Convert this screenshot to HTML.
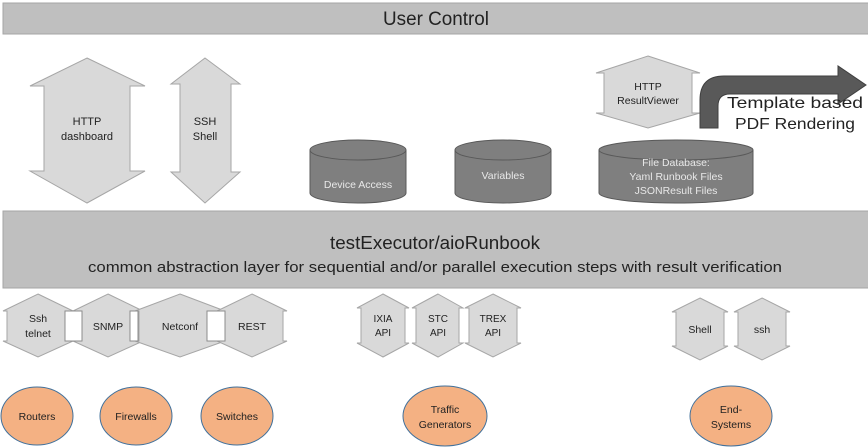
<!DOCTYPE html>
<html><head><meta charset="utf-8"><style>
body{margin:0;background:#fff}
svg{display:block}
text{font-family:"Liberation Sans",sans-serif;text-anchor:middle;fill:#222}
.a{fill:#d9d9d9;stroke:#a6a6a6;stroke-width:1}
.c{fill:#7f7f7f;stroke:#595959;stroke-width:1}
.ct{fill:#e8e8e8;font-size:10.5px}
.o{fill:#f4b183;stroke:#41719c;stroke-width:1}
</style></head><body>
<svg width="868" height="448" viewBox="0 0 868 448">
<rect x="3" y="3" width="866" height="31" fill="#bfbfbf" stroke="#a6a6a6"/>
<text x="436" y="25" font-size="19" textLength="106" lengthAdjust="spacingAndGlyphs">User Control</text>

<polygon class="a" points="87,58 145,86 130,86 130,171 145,171 87,203 30,171 44,171 44,86 30,86"/>
<text x="87" y="125" font-size="11">HTTP</text><text x="87" y="140" font-size="11">dashboard</text>
<polygon class="a" points="205,58 240,84 231,84 231,172 240,172 205,203 171,172 180,172 180,84 171,84"/>
<text x="205" y="125" font-size="11">SSH</text><text x="205" y="140" font-size="11">Shell</text>

<polygon class="a" points="648,56 700,73 692,73 692,113 700,113 648,128 596,113 604,113 604,73 596,73"/>
<text x="648" y="90" font-size="10.5">HTTP</text><text x="648" y="104" font-size="10.5">ResultViewer</text>

<path d="M700,128 L700,100 Q700,76 724,76 L838,76 L838,66 L866,85 L838,104 L838,94 L730,94 Q718,94 718,106 L718,128 Z" fill="#595959" stroke="#3f3f3f"/>
<text x="795" y="108" font-size="16" textLength="136" lengthAdjust="spacingAndGlyphs">Template based</text>
<text x="795" y="129" font-size="16" textLength="120" lengthAdjust="spacingAndGlyphs">PDF Rendering</text>

<path class="c" d="M310,150 L310,193 A48,10 0 0 0 406,193 L406,150"/>
<ellipse class="c" cx="358" cy="150" rx="48" ry="10"/>
<text class="ct" x="358" y="188">Device Access</text>
<path class="c" d="M455,150 L455,193 A48,10 0 0 0 551,193 L551,150"/>
<ellipse class="c" cx="503" cy="150" rx="48" ry="10"/>
<text class="ct" x="503" y="179">Variables</text>
<path class="c" d="M599,150 L599,193 A77,10 0 0 0 753,193 L753,150"/>
<ellipse class="c" cx="676" cy="150" rx="77" ry="10"/>
<text class="ct" x="676" y="166">File Database:</text>
<text class="ct" x="676" y="180">Yaml Runbook Files</text>
<text class="ct" x="676" y="194">JSONResult Files</text>

<rect x="3" y="211" width="866" height="77" fill="#bfbfbf" stroke="#a6a6a6"/>
<text x="435" y="249" font-size="18" textLength="210" lengthAdjust="spacingAndGlyphs">testExecutor/aioRunbook</text>
<text x="435" y="272" font-size="15" textLength="694" lengthAdjust="spacingAndGlyphs">common abstraction layer for sequential and/or parallel execution steps with result verification</text>

<polygon class="a" points="38,294 73,311 69,311 69,341 73,341 38,357 3,341 7,341 7,311 3,311"/>
<text x="38" y="322" font-size="10.5">Ssh</text><text x="38" y="337" font-size="10.5">telnet</text>
<polygon class="a" points="108,294 143,311 139,311 139,341 143,341 108,357 73,341 77,341 77,311 73,311"/>
<text x="108" y="330" font-size="10.5">SNMP</text>
<polygon class="a" points="180,294 225,311 221,311 221,341 225,341 180,357 135,341 139,341 139,311 135,311"/>
<text x="180" y="330" font-size="10.5">Netconf</text>
<polygon class="a" points="252,294 287,311 283,311 283,341 287,341 252,357 217,341 221,341 221,311 217,311"/>
<text x="252" y="330" font-size="10.5">REST</text>
<rect x="65" y="311" width="17" height="30" fill="#fff" stroke="#8c8c8c"/>
<rect x="130" y="311" width="8" height="30" fill="#fff" stroke="#8c8c8c"/>
<rect x="207" y="311" width="18" height="30" fill="#fff" stroke="#8c8c8c"/>

<polygon class="a" points="383,294 409,308 405,308 405,343 409,343 383,357 357,343 361,343 361,308 357,308"/>
<text x="383" y="322" font-size="10">IXIA</text><text x="383" y="336" font-size="10">API</text>
<polygon class="a" points="438,294 463,308 459,308 459,343 463,343 438,357 412,343 416,343 416,308 412,308"/>
<text x="438" y="322" font-size="10">STC</text><text x="438" y="336" font-size="10">API</text>
<polygon class="a" points="493,294 521,308 517,308 517,343 521,343 493,357 465,343 469,343 469,308 465,308"/>
<text x="493" y="322" font-size="10">TREX</text><text x="493" y="336" font-size="10">API</text>

<polygon class="a" points="700,298 728,312 724,312 724,346 728,346 700,360 672,346 676,346 676,312 672,312"/>
<text x="700" y="333" font-size="10.5">Shell</text>
<polygon class="a" points="762,298 790,312 786,312 786,346 790,346 762,360 734,346 738,346 738,312 734,312"/>
<text x="762" y="333" font-size="10.5">ssh</text>

<ellipse class="o" cx="37" cy="416" rx="36" ry="29"/><text x="37" y="420" font-size="10.5">Routers</text>
<ellipse class="o" cx="136" cy="416" rx="36" ry="29"/><text x="136" y="420" font-size="10.5">Firewalls</text>
<ellipse class="o" cx="237" cy="416" rx="36" ry="29"/><text x="237" y="420" font-size="10.5">Switches</text>
<ellipse class="o" cx="445" cy="416" rx="42" ry="30"/><text x="445" y="413" font-size="10.5">Traffic</text><text x="445" y="428" font-size="10.5">Generators</text>
<ellipse class="o" cx="731" cy="416" rx="41" ry="30"/><text x="731" y="413" font-size="10.5">End-</text><text x="731" y="428" font-size="10.5">Systems</text>
</svg>
</body></html>
